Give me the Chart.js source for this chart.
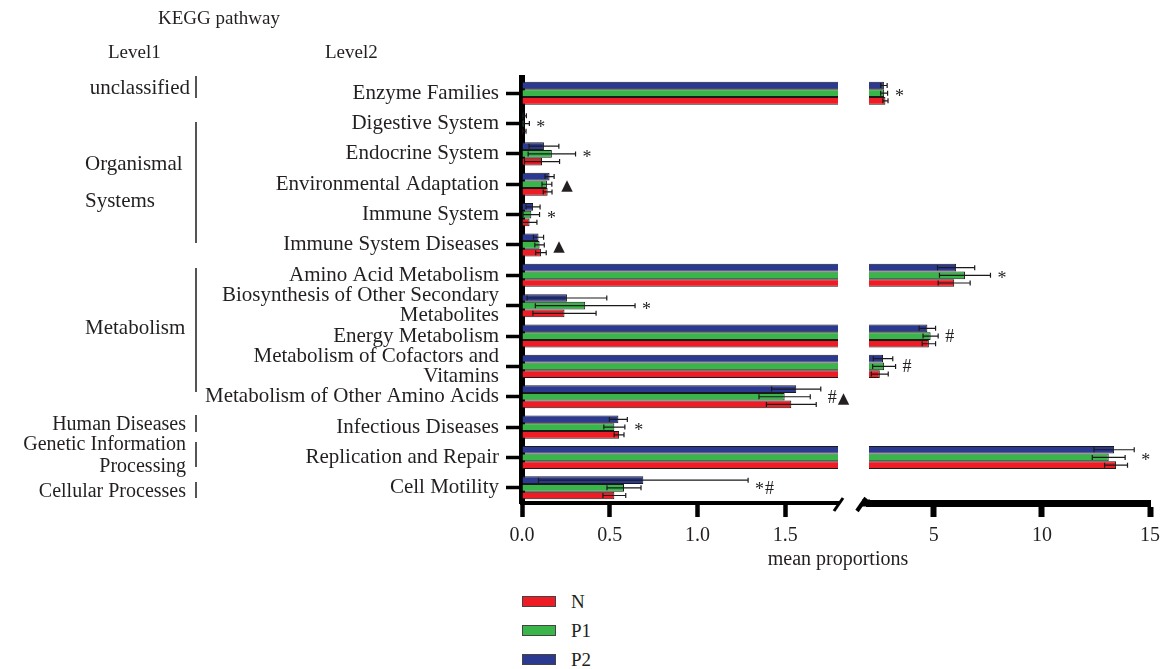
<!DOCTYPE html>
<html>
<head>
<meta charset="utf-8">
<script src="https://cdn.jsdelivr.net/npm/chart.js@4.4.1/dist/chart.umd.min.js"></script>
<style>
  html, body { margin: 0; padding: 0; background: #fff; }
  #wrap { position: relative; width: 1167px; height: 669px; overflow: hidden;
          font-family: "Liberation Serif", serif; color: #231f20; }
  #wrap canvas { position: absolute; top: 0; }
  .t { position: absolute; font-size: 21px; line-height: 20px; white-space: nowrap; }
  .r { text-align: right; left: 0; }
  .s { font-size: 20px; }
  .vbar { position: absolute; left: 195px; width: 1.5px; background: #555; }
  .key { position: absolute; left: 522px; width: 32px; height: 9px; border: 1.5px solid #444; }
</style>
</head>
<body>
<div id="wrap">
  <canvas id="leftPanel" width="850" height="560" style="left:0"></canvas>
  <canvas id="rightPanel" width="322" height="560" style="left:845px"></canvas>

  <div class="t" style="left:158px; top:8px; font-size:19px">KEGG pathway</div>
  <div class="t" style="left:108px; top:42px; font-size:19px">Level1</div>
  <div class="t" style="left:325px; top:42px; font-size:19px">Level2</div>

  <div class="t r" style="width:190px; top:77px">unclassified</div>
  <div class="vbar" style="top:76px; height:22px"></div>
  <div class="t" style="left:85px; top:153px">Organismal</div>
  <div class="t" style="left:85px; top:190px">Systems</div>
  <div class="vbar" style="top:122px; height:121px"></div>
  <div class="t" style="left:85px; top:317px">Metabolism</div>
  <div class="vbar" style="top:268px; height:124px"></div>
  <div class="t r s" style="width:186px; top:413px">Human Diseases</div>
  <div class="vbar" style="top:415px; height:17px"></div>
  <div class="t r s" style="width:186px; top:433px">Genetic Information</div>
  <div class="t r s" style="width:186px; top:455px">Processing</div>
  <div class="vbar" style="top:442px; height:25px"></div>
  <div class="t r s" style="width:186px; top:480px">Cellular Processes</div>
  <div class="vbar" style="top:482px; height:16px"></div>

  <div class="t" style="left:738px; width:200px; text-align:center; top:548px; font-size:20px">mean proportions</div>

  <div class="key" style="top:596px; background:#ee1d25"></div>
  <div class="t" style="left:571px; top:592px; font-size:19px">N</div>
  <div class="key" style="top:625px; background:#39b54a"></div>
  <div class="t" style="left:571px; top:621px; font-size:19px">P1</div>
  <div class="key" style="top:654px; background:#2b3990"></div>
  <div class="t" style="left:571px; top:650px; font-size:19px">P2</div>
</div>

<script>
// KEGG level-2 pathways (top to bottom)
const categories = [
  'Enzyme Families', 'Digestive System', 'Endocrine System', 'Environmental Adaptation',
  'Immune System', 'Immune System Diseases', 'Amino Acid Metabolism',
  ['Biosynthesis of Other Secondary', 'Metabolites'], 'Energy Metabolism',
  ['Metabolism of Cofactors and', 'Vitamins'], 'Metabolism of Other Amino Acids',
  'Infectious Diseases', 'Replication and Repair', 'Cell Motility'
];

// mean proportions and their error for each group
const valuesN  = [2.76, 0.008, 0.114, 0.146, 0.043, 0.108, 5.94, 0.242, 4.77, 2.50, 1.534, 0.553, 13.43, 0.526];
const errorsN  = [0.12, 0.015, 0.100, 0.025, 0.042, 0.030, 0.74, 0.180, 0.31, 0.39, 0.142, 0.028, 0.53, 0.065];
const valuesP1 = [2.70, 0.012, 0.170, 0.142, 0.053, 0.100, 6.44, 0.360, 4.85, 2.70, 1.496, 0.526, 13.09, 0.581];
const errorsP1 = [0.16, 0.030, 0.135, 0.028, 0.047, 0.027, 1.18, 0.284, 0.35, 0.53, 0.146, 0.060, 0.76, 0.097];
const valuesP2 = [2.69, 0.010, 0.125, 0.157, 0.063, 0.094, 6.03, 0.256, 4.70, 2.65, 1.562, 0.549, 13.34, 0.691];
const errorsP2 = [0.15, 0.015, 0.085, 0.026, 0.040, 0.029, 0.86, 0.227, 0.38, 0.45, 0.140, 0.051, 0.93, 0.597];

// significance marks per pathway
const marks = ['*', '*', '*', '▲', '*', '▲', '*', '*', '#', '#', '#▲', '*', '*', '*#'];

// broken x axis: two segments
const leftMin = 0, leftMax = 1.8;
const rightMin = 2, rightMax = 15;
const leftTicks = [0, 0.5, 1.0, 1.5];
const rightTicks = [5, 10, 15];

const COLORS = { N: '#ee1d25', P1: '#39b54a', P2: '#2b3990' };
const FONT = '"Liberation Serif", serif';
const INK = '#231f20';

function makeDatasets() {
  // first dataset sits at the top of each group
  return [
    { label: 'P2', data: valuesP2, errors: errorsP2, backgroundColor: COLORS.P2 },
    { label: 'P1', data: valuesP1, errors: errorsP1, backgroundColor: COLORS.P1 },
    { label: 'N',  data: valuesN,  errors: errorsN,  backgroundColor: COLORS.N }
  ].map(d => Object.assign(d, {
    borderColor: '#1a1a1a', borderWidth: 1,
    categoryPercentage: 0.76, barPercentage: 1.0, clip: 0
  }));
}

const errorBars = {
  id: 'errorBars',
  afterDatasetsDraw(chart) {
    const { ctx, chartArea: a } = chart;
    const xs = chart.scales.x;
    ctx.save();
    ctx.beginPath();
    ctx.rect(a.left, a.top - 4, a.right - a.left, a.bottom - a.top + 8);
    ctx.clip();
    ctx.strokeStyle = '#1a1a1a';
    ctx.lineWidth = 1.2;
    chart.data.datasets.forEach((ds, di) => {
      chart.getDatasetMeta(di).data.forEach((bar, i) => {
        const v = ds.data[i], e = ds.errors[i];
        const x1 = xs.getPixelForValue(v - e), x2 = xs.getPixelForValue(v + e);
        const y = bar.y;
        ctx.beginPath();
        ctx.moveTo(x1, y); ctx.lineTo(x2, y);
        ctx.moveTo(x1, y - 2.5); ctx.lineTo(x1, y + 2.5);
        ctx.moveTo(x2, y - 2.5); ctx.lineTo(x2, y + 2.5);
        ctx.stroke();
      });
    });
    ctx.restore();
  }
};

const sigMarks = {
  id: 'sigMarks',
  afterDraw(chart, args, opts) {
    const xs = chart.scales.x, ys = chart.scales.y, ctx = chart.ctx;
    ctx.save();
    ctx.fillStyle = INK;
    ctx.textAlign = 'left';
    ctx.textBaseline = 'alphabetic';
    marks.forEach((m, i) => {
      if (!m) return;
      const end = Math.max(valuesN[i] + errorsN[i], valuesP1[i] + errorsP1[i], valuesP2[i] + errorsP2[i]);
      const onRight = end > leftMax;
      if (onRight !== (opts.side === 'right')) return;
      let x = xs.getPixelForValue(end) + 7;
      const y = ys.getPixelForValue(i);
      for (const ch of m) {
        let dy;
        if (ch === '▲') { ctx.font = '15px "DejaVu Sans"'; dy = 6; }
        else if (ch === '*') { ctx.font = '18px ' + FONT; dy = m.length > 1 ? 7 : 9; }
        else { ctx.font = '18px ' + FONT; dy = 6; }
        ctx.fillText(ch, x, y + dy);
        x += ctx.measureText(ch).width + 1;
      }
    });
    ctx.restore();
  }
};

const axisBreak = {
  id: 'axisBreak',
  afterDraw(chart, args, opts) {
    const { ctx, chartArea: a } = chart;
    ctx.save();
    ctx.strokeStyle = '#000';
    ctx.lineCap = 'butt';
    if (opts.side === 'left') {
      ctx.lineWidth = 3;
      ctx.beginPath();
      ctx.moveTo(a.right - 4, a.bottom + 8);
      ctx.lineTo(a.right + 5, a.bottom - 5);
      ctx.stroke();
    } else {
      ctx.lineWidth = 7;
      ctx.beginPath();
      ctx.moveTo(a.left - 7, a.bottom);
      ctx.lineTo(a.left + 1, a.bottom);
      ctx.stroke();
      ctx.lineWidth = 4;
      ctx.beginPath();
      ctx.moveTo(a.left - 12, a.bottom + 8);
      ctx.lineTo(a.left - 3, a.bottom - 5);
      ctx.stroke();
    }
    ctx.restore();
  }
};

function xScale(min, max, tickValues, borderW, tickW, fmt) {
  return {
    type: 'linear', position: 'bottom', min, max,
    afterBuildTicks: s => { s.ticks = tickValues.map(v => ({ value: v })); },
    afterFit: s => { s.height = 50; },
    border: { color: '#000', width: borderW },
    grid: { drawOnChartArea: false, tickLength: 14, tickWidth: tickW, tickColor: '#000' },
    ticks: { font: { family: FONT, size: 20 }, color: INK, padding: 7, callback: fmt, maxRotation: 0 }
  };
}

new Chart(document.getElementById('leftPanel'), {
  type: 'bar',
  data: { labels: categories, datasets: makeDatasets() },
  options: {
    indexAxis: 'y', responsive: false, animation: false, devicePixelRatio: 1,
    layout: { padding: { top: 78, bottom: 7, left: 0, right: 12 } },
    plugins: { legend: { display: false }, tooltip: { enabled: false },
               sigMarks: { side: 'left' }, axisBreak: { side: 'left' } },
    scales: {
      x: xScale(leftMin, leftMax, leftTicks, 4, 4.5, v => Number(v).toFixed(1)),
      y: {
        type: 'category',
        afterFit: s => { s.width = 522; },
        border: { color: '#000', width: 6 },
        grid: { drawOnChartArea: false, offset: false, tickLength: 16, tickWidth: 3.5, tickColor: '#000' },
        ticks: { font: { family: FONT, size: 21, lineHeight: 0.95 }, color: INK, padding: 7, autoSkip: false }
      }
    }
  },
  plugins: [errorBars, sigMarks, axisBreak]
});

new Chart(document.getElementById('rightPanel'), {
  type: 'bar',
  data: { labels: categories, datasets: makeDatasets() },
  options: {
    indexAxis: 'y', responsive: false, animation: false, devicePixelRatio: 1,
    layout: { padding: { top: 78, bottom: 7, left: 24, right: 11.7 } },
    plugins: { legend: { display: false }, tooltip: { enabled: false },
               sigMarks: { side: 'right' }, axisBreak: { side: 'right' } },
    scales: {
      x: xScale(rightMin, rightMax, rightTicks, 7, 6, v => String(v)),
      y: { type: 'category', display: false }
    }
  },
  plugins: [errorBars, sigMarks, axisBreak]
});
</script>
</body>
</html>
